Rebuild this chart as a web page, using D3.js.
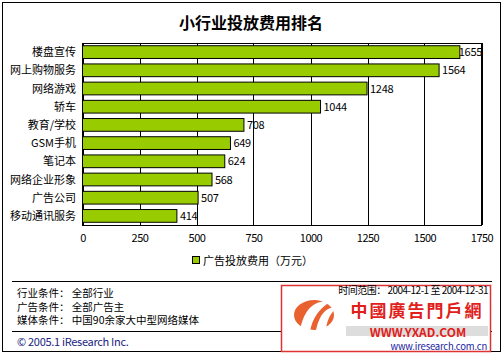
<!DOCTYPE html>
<html><head><meta charset="utf-8">
<script src="https://cdn.jsdelivr.net/npm/d3@7"></script>
<style>
body{margin:0;background:#fff;}
svg{display:block;}
text{font-family:"Noto Sans CJK SC","DejaVu Sans",sans-serif;}
</style></head><body>
<svg id="c" width="504" height="354"></svg>
<script>
const title = "小行业投放费用排名";
const categories = ["楼盘宣传","网上购物服务","网络游戏","轿车","教育/学校","GSM手机","笔记本","网络企业形象","广告公司","移动通讯服务"];
const values = [1655,1564,1248,1044,708,649,624,568,507,414];
const tickValues = [0,250,500,750,1000,1250,1500,1750];
const legendLabel = "广告投放费用（万元）";
const footerLines = ["行业条件： 全部行业","广告条件： 全部广告主","媒体条件： 中国90余家大中型网络媒体"];
const copyright = "© 2005.1 iResearch Inc.";
const timeRange = "时间范围： 2004-12-1 至 2004-12-31";

const svg = d3.select("#c");
const numFont = "Verdana,'DejaVu Sans',sans-serif";

// outer border
svg.append("rect").attr("x",2.5).attr("y",2.5).attr("width",498).attr("height",349)
  .attr("fill","#fff").attr("stroke","#000").attr("stroke-width",1);

// title
svg.append("text").attr("x",251).attr("y",29).attr("text-anchor","middle")
  .attr("font-size",16).attr("font-weight","bold").text(title);

const x = d3.scaleLinear().domain([0,1750]).range([82.5,481.5]);
const y = d3.scaleBand().domain(categories).range([43,225]).paddingInner(0.3).paddingOuter(0.15);

// plot frame & gridlines
const g = svg.append("g");
g.selectAll("line.grid").data(tickValues).enter().append("line")
  .attr("x1",d=>Math.round(x(d))+0.5).attr("x2",d=>Math.round(x(d))+0.5)
  .attr("y1",43).attr("y2",225).attr("stroke","#000").attr("stroke-width",1);
g.append("rect").attr("x",82.5).attr("y",43.5).attr("width",399).attr("height",182)
  .attr("fill","none").attr("stroke","#000");

// bars
g.selectAll("rect.bar").data(values).enter().append("rect")
  .attr("x",x(0)).attr("y",(d,i)=>y(categories[i]))
  .attr("width",d=>x(d)-x(0)).attr("height",y.bandwidth())
  .attr("fill","#99CC00").attr("stroke","#000").attr("stroke-width",1);

// value labels (kept inside plot area on the right)
g.selectAll("text.val").data(values).enter().append("text")
  .attr("x",d=>x(d)+3).attr("y",(d,i)=>y(categories[i])+y.bandwidth()/2+4)
  .attr("font-size",11).attr("font-family",numFont).attr("letter-spacing","-0.3").text(d=>d)
  .each(function(){
    const w = this.getComputedTextLength();
    const cx = +this.getAttribute("x");
    if (cx + w > 482) this.setAttribute("x", 482 - w);
  });

// category labels
g.selectAll("text.cat").data(categories).enter().append("text")
  .attr("x",76).attr("y",d=>y(d)+y.bandwidth()/2+4).attr("text-anchor","end")
  .attr("font-size",11).text(d=>d);

// x axis labels
const ax = svg.append("g").attr("transform","translate(0,225)")
  .call(d3.axisBottom(x).tickValues(tickValues).tickSize(0).tickPadding(9).tickFormat(d3.format("d")));
ax.select(".domain").remove();
ax.selectAll("text").attr("font-size",11).attr("font-family",numFont).attr("letter-spacing","-0.5").attr("fill","#000");

// legend
svg.append("rect").attr("x",192.5).attr("y",256.5).attr("width",7).attr("height",7)
  .attr("fill","#99CC00").attr("stroke","#000");
svg.append("text").attr("x",203).attr("y",264.5).attr("font-size",11).text(legendLabel);

// separator lines
svg.append("line").attr("x1",12).attr("x2",492).attr("y1",281.5).attr("y2",281.5).attr("stroke","#000");
svg.append("line").attr("x1",12).attr("x2",492).attr("y1",331.5).attr("y2",331.5).attr("stroke","#000");

// footer text
svg.selectAll("text.foot").data(footerLines).enter().append("text")
  .attr("x",17).attr("y",(d,i)=>297+i*13.5).attr("font-size",10.5).text(d=>d);
svg.append("text").attr("x",17).attr("y",346).attr("font-size",11).attr("font-family",numFont)
  .attr("fill","#1a237e").attr("letter-spacing","-0.3").text(copyright);

// watermark box
const wm = svg.append("g");
wm.append("rect").attr("x",281.5).attr("y",285.5).attr("width",209).attr("height",66)
  .attr("fill","#fff").attr("stroke","#d33").attr("stroke-width",1.5);
wm.append("text").attr("x",488).attr("y",294).attr("text-anchor","end").attr("font-size",10)
  .attr("font-family",numFont).attr("letter-spacing","-0.5").text(timeRange);
wm.append("rect").attr("x",346).attr("y",326).attr("width",142).attr("height",10).attr("fill","#ddd");
wm.append("text").attr("x",417).attr("y",317).attr("text-anchor","middle").attr("font-size",17)
  .attr("font-weight","bold").attr("fill","#e0201a").attr("letter-spacing","2").text("中國廣告門戶網");
wm.append("text").attr("x",418).attr("y",336.5).attr("text-anchor","middle").attr("font-size",12)
  .attr("font-weight","bold").attr("font-family","'DejaVu Sans',sans-serif").attr("fill","#e0201a").text("WWW.YXAD.COM");
wm.append("text").attr("x",487).attr("y",349.5).attr("text-anchor","end").attr("font-size",9.5)
  .attr("font-family",numFont).attr("fill","#1a1aa0").attr("letter-spacing","-0.2").text("www.iresearch.com.cn");
// logo swoosh
wm.append("ellipse").attr("cx",314).attr("cy",315).attr("rx",20).attr("ry",15).attr("fill","#e8501a").attr("opacity",0.9);
wm.append("path").attr("d","M300,330 C305,305 318,300 330,302 C320,308 312,318 310,332 Z").attr("fill","#fff");
wm.append("path").attr("d","M316,330 C320,312 328,306 336,308 C330,314 326,322 326,332 Z").attr("fill","#fff");
</script>
</body></html>
